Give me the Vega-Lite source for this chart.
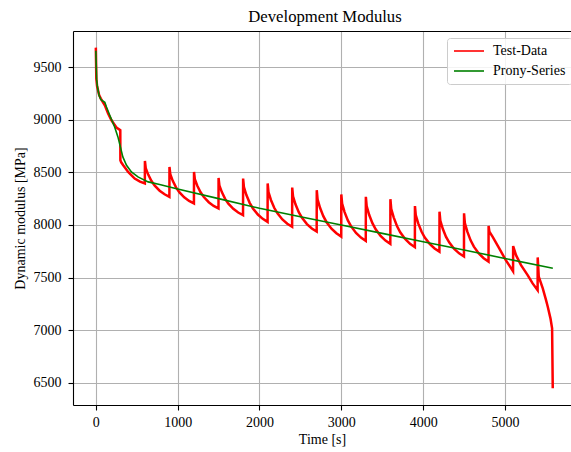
{
  "$schema": "https://vega.github.io/schema/vega-lite/v6.json",
  "autosize": {"type": "none"},
  "padding": {"left": 73, "top": 31, "right": 0, "bottom": 47},
  "width": 498,
  "height": 374,
  "background": "white",
  "title": {"text": "Development Modulus", "font": "Liberation Serif", "fontSize": 16.7, "fontWeight": "normal", "color": "black", "offset": 5, "anchor": "middle", "dx": 3},
  "config": {
    "view": {"stroke": null},
    "axis": {
      "labelFont": "Liberation Serif", "labelFontSize": 14, "labelColor": "black",
      "titleFont": "Liberation Serif", "titleFontSize": 14, "titleFontWeight": "normal", "titleColor": "black",
      "domainColor": "black", "domainWidth": 1.1,
      "tickColor": "black", "tickWidth": 1.1, "tickSize": 5, "labelPadding": 5,
      "gridColor": "#b0b0b0", "gridWidth": 1.1
    },
    "legend": {
      "labelFont": "Liberation Serif", "labelFontSize": 14, "labelColor": "black"
    }
  },
  "datasets": {
    "test": [
      {"series": "Test-Data", "t": 0, "E": 9684}, {"series": "Test-Data", "t": 3, "E": 9540}, {"series": "Test-Data", "t": 6, "E": 9390},
      {"series": "Test-Data", "t": 15, "E": 9320}, {"series": "Test-Data", "t": 40, "E": 9235}, {"series": "Test-Data", "t": 61, "E": 9200},
      {"series": "Test-Data", "t": 110, "E": 9137}, {"series": "Test-Data", "t": 150, "E": 9058}, {"series": "Test-Data", "t": 191, "E": 8994},
      {"series": "Test-Data", "t": 252, "E": 8925}, {"series": "Test-Data", "t": 299, "E": 8900},
      {"series": "Test-Data", "t": 300, "E": 8615}, {"series": "Test-Data", "t": 310, "E": 8595}, {"series": "Test-Data", "t": 335, "E": 8567},
      {"series": "Test-Data", "t": 395, "E": 8504}, {"series": "Test-Data", "t": 475, "E": 8441}, {"series": "Test-Data", "t": 540, "E": 8412},
      {"series": "Test-Data", "t": 599, "E": 8394},
      {"series": "Test-Data", "t": 600, "E": 8608}, {"series": "Test-Data", "t": 610, "E": 8540}, {"series": "Test-Data", "t": 640, "E": 8478},
      {"series": "Test-Data", "t": 680, "E": 8417}, {"series": "Test-Data", "t": 720, "E": 8373}, {"series": "Test-Data", "t": 780, "E": 8325},
      {"series": "Test-Data", "t": 840, "E": 8291}, {"series": "Test-Data", "t": 899, "E": 8267},
      {"series": "Test-Data", "t": 900, "E": 8551}, {"series": "Test-Data", "t": 910, "E": 8482}, {"series": "Test-Data", "t": 940, "E": 8419},
      {"series": "Test-Data", "t": 980, "E": 8357}, {"series": "Test-Data", "t": 1020, "E": 8312}, {"series": "Test-Data", "t": 1080, "E": 8263},
      {"series": "Test-Data", "t": 1140, "E": 8228}, {"series": "Test-Data", "t": 1199, "E": 8204},
      {"series": "Test-Data", "t": 1200, "E": 8504}, {"series": "Test-Data", "t": 1210, "E": 8435}, {"series": "Test-Data", "t": 1240, "E": 8372},
      {"series": "Test-Data", "t": 1280, "E": 8310}, {"series": "Test-Data", "t": 1320, "E": 8265}, {"series": "Test-Data", "t": 1380, "E": 8216},
      {"series": "Test-Data", "t": 1440, "E": 8181}, {"series": "Test-Data", "t": 1499, "E": 8157},
      {"series": "Test-Data", "t": 1500, "E": 8446}, {"series": "Test-Data", "t": 1510, "E": 8375}, {"series": "Test-Data", "t": 1540, "E": 8312},
      {"series": "Test-Data", "t": 1580, "E": 8248}, {"series": "Test-Data", "t": 1620, "E": 8202}, {"series": "Test-Data", "t": 1680, "E": 8153},
      {"series": "Test-Data", "t": 1740, "E": 8118}, {"series": "Test-Data", "t": 1799, "E": 8093},
      {"series": "Test-Data", "t": 1800, "E": 8441}, {"series": "Test-Data", "t": 1810, "E": 8359}, {"series": "Test-Data", "t": 1840, "E": 8284},
      {"series": "Test-Data", "t": 1880, "E": 8210}, {"series": "Test-Data", "t": 1920, "E": 8157}, {"series": "Test-Data", "t": 1980, "E": 8099},
      {"series": "Test-Data", "t": 2040, "E": 8058}, {"series": "Test-Data", "t": 2099, "E": 8029},
      {"series": "Test-Data", "t": 2100, "E": 8394}, {"series": "Test-Data", "t": 2110, "E": 8312}, {"series": "Test-Data", "t": 2140, "E": 8237},
      {"series": "Test-Data", "t": 2180, "E": 8163}, {"series": "Test-Data", "t": 2220, "E": 8110}, {"series": "Test-Data", "t": 2280, "E": 8052},
      {"series": "Test-Data", "t": 2340, "E": 8011}, {"series": "Test-Data", "t": 2399, "E": 7982},
      {"series": "Test-Data", "t": 2400, "E": 8355}, {"series": "Test-Data", "t": 2410, "E": 8271}, {"series": "Test-Data", "t": 2440, "E": 8196},
      {"series": "Test-Data", "t": 2480, "E": 8121}, {"series": "Test-Data", "t": 2520, "E": 8067}, {"series": "Test-Data", "t": 2580, "E": 8008},
      {"series": "Test-Data", "t": 2640, "E": 7966}, {"series": "Test-Data", "t": 2699, "E": 7937},
      {"series": "Test-Data", "t": 2700, "E": 8330}, {"series": "Test-Data", "t": 2710, "E": 8242}, {"series": "Test-Data", "t": 2740, "E": 8163},
      {"series": "Test-Data", "t": 2780, "E": 8084}, {"series": "Test-Data", "t": 2820, "E": 8026}, {"series": "Test-Data", "t": 2880, "E": 7965},
      {"series": "Test-Data", "t": 2940, "E": 7921}, {"series": "Test-Data", "t": 2999, "E": 7890},
      {"series": "Test-Data", "t": 3000, "E": 8290}, {"series": "Test-Data", "t": 3010, "E": 8202}, {"series": "Test-Data", "t": 3040, "E": 8122},
      {"series": "Test-Data", "t": 3080, "E": 8043}, {"series": "Test-Data", "t": 3120, "E": 7986}, {"series": "Test-Data", "t": 3180, "E": 7924},
      {"series": "Test-Data", "t": 3240, "E": 7880}, {"series": "Test-Data", "t": 3299, "E": 7849},
      {"series": "Test-Data", "t": 3300, "E": 8267}, {"series": "Test-Data", "t": 3310, "E": 8178}, {"series": "Test-Data", "t": 3340, "E": 8097},
      {"series": "Test-Data", "t": 3380, "E": 8017}, {"series": "Test-Data", "t": 3420, "E": 7959}, {"series": "Test-Data", "t": 3480, "E": 7896},
      {"series": "Test-Data", "t": 3540, "E": 7851}, {"series": "Test-Data", "t": 3599, "E": 7820},
      {"series": "Test-Data", "t": 3600, "E": 8245}, {"series": "Test-Data", "t": 3610, "E": 8154}, {"series": "Test-Data", "t": 3640, "E": 8072},
      {"series": "Test-Data", "t": 3680, "E": 7990}, {"series": "Test-Data", "t": 3720, "E": 7930}, {"series": "Test-Data", "t": 3780, "E": 7867},
      {"series": "Test-Data", "t": 3840, "E": 7821}, {"series": "Test-Data", "t": 3899, "E": 7789},
      {"series": "Test-Data", "t": 3900, "E": 8180}, {"series": "Test-Data", "t": 3910, "E": 8093}, {"series": "Test-Data", "t": 3940, "E": 8015},
      {"series": "Test-Data", "t": 3980, "E": 7938}, {"series": "Test-Data", "t": 4020, "E": 7881}, {"series": "Test-Data", "t": 4080, "E": 7821},
      {"series": "Test-Data", "t": 4140, "E": 7777}, {"series": "Test-Data", "t": 4199, "E": 7747},
      {"series": "Test-Data", "t": 4200, "E": 8126}, {"series": "Test-Data", "t": 4210, "E": 8041}, {"series": "Test-Data", "t": 4240, "E": 7964},
      {"series": "Test-Data", "t": 4280, "E": 7887}, {"series": "Test-Data", "t": 4320, "E": 7832}, {"series": "Test-Data", "t": 4380, "E": 7772},
      {"series": "Test-Data", "t": 4440, "E": 7730}, {"series": "Test-Data", "t": 4499, "E": 7700},
      {"series": "Test-Data", "t": 4500, "E": 8110}, {"series": "Test-Data", "t": 4510, "E": 8018}, {"series": "Test-Data", "t": 4540, "E": 7936},
      {"series": "Test-Data", "t": 4580, "E": 7854}, {"series": "Test-Data", "t": 4620, "E": 7794}, {"series": "Test-Data", "t": 4680, "E": 7730},
      {"series": "Test-Data", "t": 4740, "E": 7684}, {"series": "Test-Data", "t": 4799, "E": 7652},
      {"series": "Test-Data", "t": 4800, "E": 7990}, {"series": "Test-Data", "t": 4810, "E": 7935}, {"series": "Test-Data", "t": 4850, "E": 7887},
      {"series": "Test-Data", "t": 4930, "E": 7777}, {"series": "Test-Data", "t": 5010, "E": 7666}, {"series": "Test-Data", "t": 5099, "E": 7560},
      {"series": "Test-Data", "t": 5100, "E": 7800}, {"series": "Test-Data", "t": 5135, "E": 7713}, {"series": "Test-Data", "t": 5196, "E": 7619},
      {"series": "Test-Data", "t": 5277, "E": 7524}, {"series": "Test-Data", "t": 5338, "E": 7445}, {"series": "Test-Data", "t": 5399, "E": 7380},
      {"series": "Test-Data", "t": 5400, "E": 7692}, {"series": "Test-Data", "t": 5413, "E": 7508}, {"series": "Test-Data", "t": 5462, "E": 7397},
      {"series": "Test-Data", "t": 5502, "E": 7286}, {"series": "Test-Data", "t": 5523, "E": 7223}, {"series": "Test-Data", "t": 5556, "E": 7113},
      {"series": "Test-Data", "t": 5576, "E": 7018}, {"series": "Test-Data", "t": 5584, "E": 6449}
    ],
    "prony": [
      {"series": "Prony-Series", "t": 0, "E": 9655}, {"series": "Prony-Series", "t": 10, "E": 9380}, {"series": "Prony-Series", "t": 20, "E": 9310},
      {"series": "Prony-Series", "t": 40, "E": 9230}, {"series": "Prony-Series", "t": 61, "E": 9191}, {"series": "Prony-Series", "t": 90, "E": 9175},
      {"series": "Prony-Series", "t": 110, "E": 9165}, {"series": "Prony-Series", "t": 130, "E": 9120}, {"series": "Prony-Series", "t": 170, "E": 9042},
      {"series": "Prony-Series", "t": 230, "E": 8931}, {"series": "Prony-Series", "t": 270, "E": 8836}, {"series": "Prony-Series", "t": 300, "E": 8741},
      {"series": "Prony-Series", "t": 330, "E": 8646}, {"series": "Prony-Series", "t": 375, "E": 8567}, {"series": "Prony-Series", "t": 435, "E": 8504},
      {"series": "Prony-Series", "t": 515, "E": 8456}, {"series": "Prony-Series", "t": 640, "E": 8409}, {"series": "Prony-Series", "t": 780, "E": 8384},
      {"series": "Prony-Series", "t": 1000, "E": 8342}, {"series": "Prony-Series", "t": 1500, "E": 8250}, {"series": "Prony-Series", "t": 2000, "E": 8158},
      {"series": "Prony-Series", "t": 2500, "E": 8078}, {"series": "Prony-Series", "t": 3000, "E": 8000}, {"series": "Prony-Series", "t": 3500, "E": 7920},
      {"series": "Prony-Series", "t": 4000, "E": 7840}, {"series": "Prony-Series", "t": 4500, "E": 7762}, {"series": "Prony-Series", "t": 5000, "E": 7682},
      {"series": "Prony-Series", "t": 5585, "E": 7588}
    ]
  },
  "encoding": {
    "y": {
      "field": "E", "type": "quantitative",
      "scale": {"domain": [6290, 9842], "nice": false, "zero": false},
      "axis": {"title": "Dynamic modulus [MPa]", "values": [6500, 7000, 7500, 8000, 8500, 9000, 9500], "format": "d", "labelPadding": 7, "titlePadding": 6}
    },
    "color": {
      "field": "series", "type": "nominal",
      "scale": {"domain": ["Test-Data", "Prony-Series"], "range": ["#ff0000", "#008000"]},
      "legend": {
        "title": null, "orient": "none", "legendX": 374, "legendY": 7,
        "symbolType": "M-2.5,0H2.5", "symbolSize": 144, "symbolStrokeWidth": 1.6, "symbolOffset": 9,
        "labelOffset": 17, "padding": 6, "rowPadding": 6,
        "fillColor": "rgba(255,255,255,0.85)", "strokeColor": "#cccccc", "cornerRadius": 3
      }
    }
  },
  "layer": [
    {
      "data": {"name": "test"},
      "mark": {"type": "line", "strokeWidth": 2.5},
      "encoding": {
        "x": {
          "field": "t", "type": "quantitative",
          "scale": {"domain": [-279, 5807], "nice": false, "zero": false},
          "axis": {"title": "Time [s]", "values": [0, 1000, 2000, 3000, 4000, 5000], "format": "d", "labelFlush": false, "titlePadding": 3}
        }
      }
    },
    {
      "data": {"name": "prony"},
      "mark": {"type": "line", "strokeWidth": 1.6},
      "encoding": {
        "x": {
          "field": "t", "type": "quantitative",
          "axis": {"orient": "top", "labels": false, "ticks": false, "grid": false, "title": null, "domain": true}
        }
      }
    }
  ],
  "resolve": {"axis": {"x": "independent"}}
}
